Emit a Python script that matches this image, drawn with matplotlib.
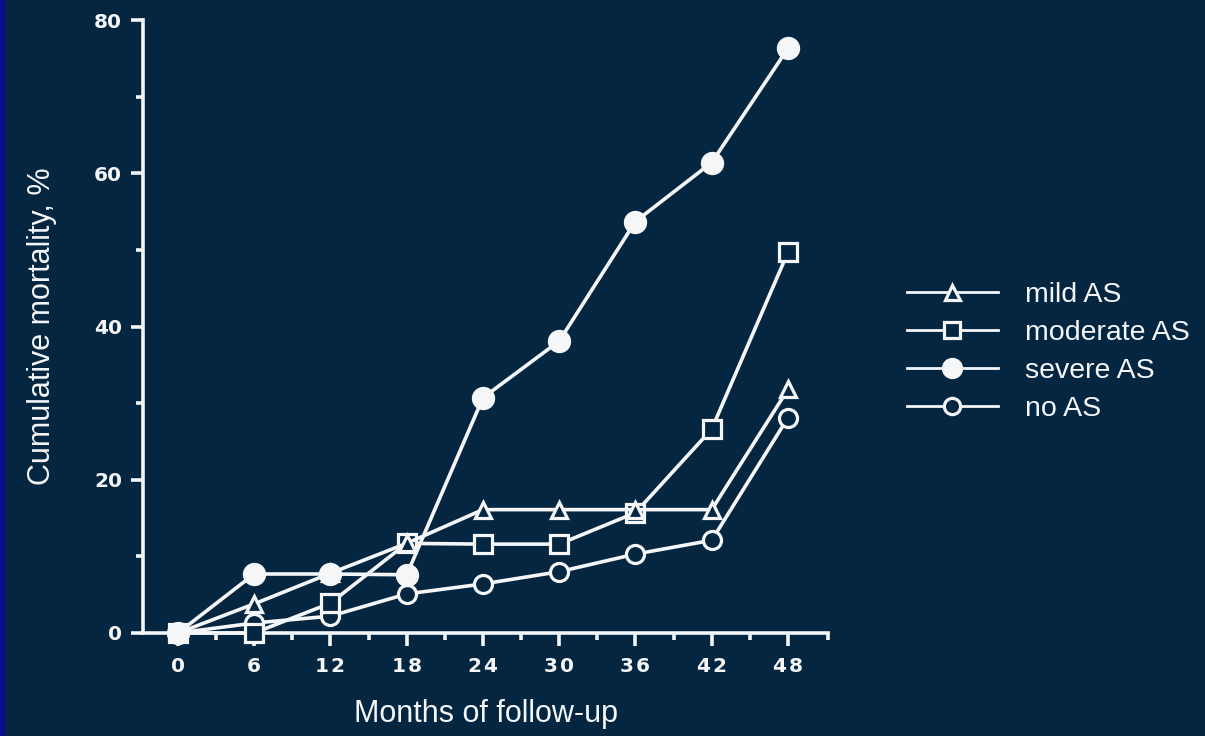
import matplotlib
matplotlib.use("Agg")
import matplotlib.pyplot as plt
from matplotlib.patches import Rectangle
from matplotlib.ticker import FixedLocator

# Follow-up months and cumulative mortality (%) per group
months = [0, 6, 12, 18, 24, 30, 36, 42, 48]
mild_as = [0, 3.8, 7.8, 11.7, 16.1, 16.1, 16.1, 16.1, 31.8]
moderate_as = [0, 0, 3.9, 11.7, 11.6, 11.6, 15.7, 26.6, 49.7]
severe_as = [0, 7.7, 7.7, 7.6, 30.7, 38.1, 53.7, 61.4, 76.3]
no_as = [0, 1.3, 2.2, 5.1, 6.4, 8.0, 10.3, 12.1, 28.1]

x_ticks = [0, 6, 12, 18, 24, 30, 36, 42, 48]
y_ticks = [0, 20, 40, 60, 80]

BG = "#052641"
FG = "#f4f6f8"
GAP = "\u200a"

plt.rcParams["font.family"] = ["Liberation Sans", "DejaVu Sans"]

fig = plt.figure(figsize=(12.05, 7.36), dpi=100, facecolor=BG)
fig.patches.append(Rectangle((0, 0), 5 / 1205, 1, transform=fig.transFigure,
                             facecolor="#0b0b8f", edgecolor="none", zorder=-1))

ax = fig.add_axes([143 / 1205, 1 - 633 / 736, (828 - 143) / 1205, (633 - 20) / 736])
ax.set_facecolor(BG)

xmin, xmax = -2.75, 51.15
ax.set_xlim(xmin, xmax)
ax.set_ylim(0, 80)

lw = 2.6
common = dict(color=FG, lw=lw, clip_on=False, markeredgewidth=2.3,
              markeredgecolor=FG)
ax.plot(months, no_as, marker="o", markersize=13, markerfacecolor=BG,
        label="no AS", zorder=3, **common)
ax.plot(months, moderate_as, marker="s", markersize=13, markerfacecolor=BG,
        label="moderate AS", zorder=4, **common)
ax.plot(months, mild_as, marker="^", markersize=12, markerfacecolor=BG,
        label="mild AS", zorder=5, **common)
ax.plot(months, severe_as, marker="o", markersize=14.5, markerfacecolor=FG,
        label="severe AS", zorder=6, **common)

for side in ("top", "right"):
    ax.spines[side].set_visible(False)
for side in ("left", "bottom"):
    ax.spines[side].set_color(FG)
    ax.spines[side].set_linewidth(lw)

tick_font = dict(family=["DejaVu Sans"], weight="bold", size=14.5)
ax.set_xticks(x_ticks)
ax.set_xticklabels([GAP.join(str(v)) for v in x_ticks], **tick_font)
ax.xaxis.set_minor_locator(FixedLocator([3, 9, 15, 21, 27, 33, 39, 45, xmax]))
ax.set_yticks(y_ticks)
ax.set_yticklabels([str(v) for v in y_ticks], **tick_font)
ax.yaxis.set_minor_locator(FixedLocator([10, 30, 50, 70]))

ax.tick_params(axis="both", which="major", direction="out", color=FG,
               labelcolor=FG, width=lw, length=9)
ax.tick_params(axis="both", which="minor", direction="out", color=FG,
               width=lw, length=5)
ax.tick_params(axis="x", which="major", pad=8)
ax.tick_params(axis="y", which="major", pad=6)

ax.set_xlabel("Months of follow-up", color=FG, fontsize=22)
ax.set_ylabel("Cumulative mortality, %", color=FG, fontsize=22)
ax.xaxis.set_label_coords(0.5, -0.107)
ax.yaxis.set_label_coords(-0.125, 0.5)

handles, labels = ax.get_legend_handles_labels()
order = ["mild AS", "moderate AS", "severe AS", "no AS"]
h = [handles[labels.index(k)] for k in order]
leg = fig.legend(h, order, loc="center left",
                 bbox_to_anchor=(881 / 1205, 1 - 352 / 736),
                 frameon=False, fontsize=20.5, labelcolor=FG, handlelength=3.2,
                 handletextpad=0.95, labelspacing=0.43, markerscale=0.9)
for line in leg.get_lines():
    line.set_linewidth(2.0)

fig.savefig("out.png", dpi=100, facecolor=BG)
